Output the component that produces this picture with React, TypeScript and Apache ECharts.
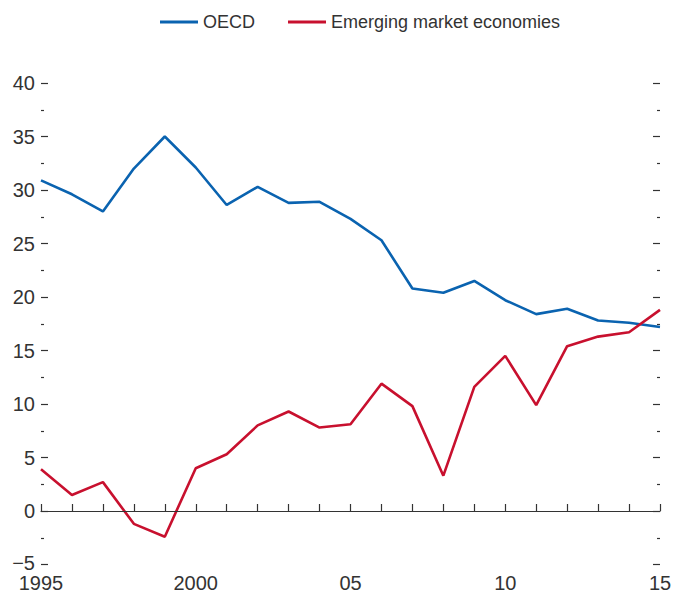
import React, { useEffect, useRef } from "react";
import * as echarts from "echarts";

const years = [1995, 1996, 1997, 1998, 1999, 2000, 2001, 2002, 2003, 2004, 2005, 2006, 2007, 2008, 2009, 2010, 2011, 2012, 2013, 2014, 2015];
const oecd = [30.9, 29.6, 28.0, 32.0, 35.0, 32.1, 28.6, 30.3, 28.8, 28.9, 27.3, 25.3, 20.8, 20.4, 21.5, 19.7, 18.4, 18.9, 17.8, 17.6, 17.2];
const eme = [3.9, 1.5, 2.7, -1.2, -2.4, 4.0, 5.3, 8.0, 9.3, 7.8, 8.1, 11.9, 9.8, 3.3, 11.6, 14.5, 9.9, 15.4, 16.3, 16.7, 18.8];
const seriesNames = ["OECD", "Emerging market economies"];
const colors = ["#0a63b0", "#c8102e"];

const FONT = "'Liberation Sans', Arial, sans-serif";
const TEXT = "#333333";

export default function App() {
  const ref = useRef<HTMLDivElement>(null);
  useEffect(() => {
    if (!ref.current) return;
    const chart = echarts.init(ref.current, null, { renderer: "svg" });
    const mk = (arr: number[]) => years.map((y, i) => [y, arr[i]]);
    const yAxisCommon = {
      type: "value",
      min: -5,
      max: 40,
      interval: 5,
      splitLine: { show: false },
      axisLine: { show: false },
      axisTick: { show: true, inside: true, length: 7, lineStyle: { color: TEXT, width: 1.2 } },
      minorTick: { show: true, splitNumber: 2, length: 3, lineStyle: { color: TEXT, width: 1.2 } },
    };
    chart.setOption({
      animation: false,
      textStyle: { fontFamily: FONT },
      legend: {
        top: 8,
        left: 155,
        itemWidth: 38,
        itemHeight: 3,
        itemGap: 33,
        icon: "rect",
        textStyle: { fontFamily: FONT, fontSize: 18, color: TEXT },
        data: seriesNames,
      },
      grid: { left: 41, right: 25, top: 83, bottom: 28.5 },
      xAxis: {
        type: "value",
        min: 1995,
        max: 2015,
        interval: 1,
        splitLine: { show: false },
        axisLine: { show: true, lineStyle: { color: TEXT, width: 1.2 } },
        axisTick: { show: true, inside: true, length: 7, lineStyle: { color: TEXT, width: 1.2 } },
        axisLabel: {
          fontFamily: FONT,
          fontSize: 20,
          lineHeight: 16,
          color: TEXT,
          margin: 10,
          formatter: (v: number) => {
            if (v % 5 !== 0) return "";
            if (v === 1995 || v === 2000) return String(v);
            return String(v).slice(2);
          },
        },
      },
      yAxis: [
        {
          ...yAxisCommon,
          position: "left",
          axisLabel: {
            fontFamily: FONT,
            fontSize: 20,
            lineHeight: 14,
            color: TEXT,
            margin: 6,
            formatter: (v: number) => (v < 0 ? "{n|\u2212" + Math.abs(v) + "}" : String(v)),
            rich: {
              n: { fontFamily: FONT, fontSize: 20, lineHeight: 14, color: TEXT, padding: [0, 0, 4, 0] },
            },
          },
        },
        {
          ...yAxisCommon,
          position: "right",
          axisLabel: { show: false },
        },
      ],
      series: [
        {
          name: seriesNames[0],
          type: "line",
          data: mk(oecd),
          symbol: "none",
          lineStyle: { color: colors[0], width: 2.6 },
          itemStyle: { color: colors[0] },
          z: 3,
          markLine: {
            silent: true,
            symbol: "none",
            label: { show: false },
            lineStyle: { color: TEXT, width: 1.2, type: "solid" },
            data: [{ yAxis: 0 }],
          },
        },
        {
          name: seriesNames[1],
          type: "line",
          data: mk(eme),
          symbol: "none",
          lineStyle: { color: colors[1], width: 2.6 },
          itemStyle: { color: colors[1] },
          z: 4,
        },
      ],
    });
    return () => chart.dispose();
  }, []);
  return (
    <div
      ref={ref}
      style={{ position: "fixed", left: 0, top: 0, width: 685, height: 593, background: "#ffffff" }}
    />
  );
}
